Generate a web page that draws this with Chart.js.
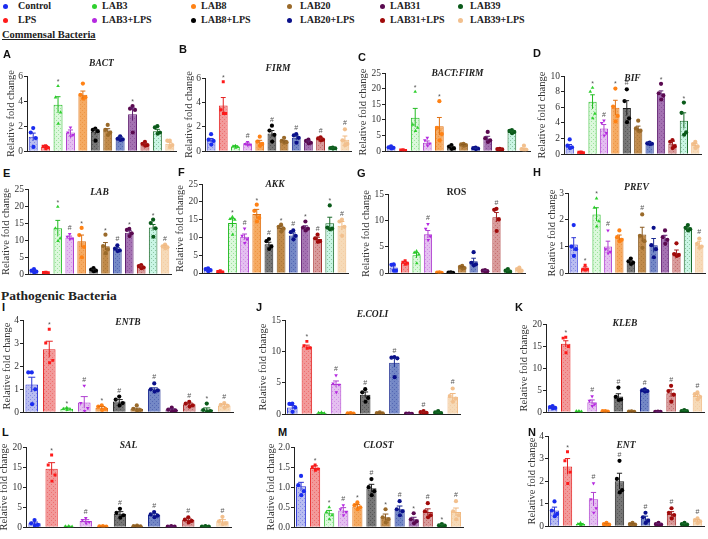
<!DOCTYPE html>
<html><head><meta charset="utf-8">
<script src="https://cdn.jsdelivr.net/npm/chart.js@4.4.1/dist/chart.umd.min.js"></script>
<style>
html,body{margin:0;padding:0;background:#fff;}
body{width:708px;height:539px;position:relative;overflow:hidden;font-family:"Liberation Serif",serif;}
.lg{position:absolute;font-weight:bold;font-size:10px;color:#222;white-space:nowrap;line-height:12px;}
.dot{position:absolute;width:5px;height:5px;border-radius:50%;}
.sec{position:absolute;font-weight:bold;color:#222;text-decoration:underline;white-space:nowrap;}
.pl{position:absolute;font-family:"Liberation Sans",Arial,sans-serif;font-weight:bold;font-size:11px;line-height:11px;color:#111;}
canvas{position:absolute;}
</style></head><body>
<script>
// ---------- DATA ----------
const groups = ['Control','LPS','LAB3','LAB3+LPS','LAB8','LAB8+LPS','LAB20','LAB20+LPS','LAB31','LAB31+LPS','LAB39','LAB39+LPS'];
const legendRow1 = ['Control','LAB3','LAB8','LAB20','LAB31','LAB39'];
const legendRow2 = ['LPS','LAB3+LPS','LAB8+LPS','LAB20+LPS','LAB31+LPS','LAB39+LPS'];

// A BACT
const bactMean = [1.15,0.35,3.7,1.5,4.5,1.55,1.65,1.05,2.95,0.55,1.6,0.6];
const bactSem  = [0.3,0.1,0.65,0.2,0.3,0.2,0.15,0.1,0.5,0.1,0.15,0.12];
const bactPts  = [[1.85,1.5,1.05,0.35],[0.45,0.4,0.3,0.2],[5.2,4.3,3.1,2.2],[1.9,1.5,1.3,1.2],[5.4,4.5,4.3,4.2],[1.8,1.7,1.6,0.85],[2.1,1.7,1.5,1.3],[1.2,1.0,0.95,0.9],[3.6,3.4,3.3,1.5],[0.75,0.6,0.5,0.45],[2.0,1.9,1.5,1.4],[0.85,0.85,0.5,0.35]];
const bactSig  = ['','','*','','','','','','*','','',''];
// B FIRM
const firmMean = [0.9,3.75,0.4,0.6,0.75,1.45,0.8,1.1,0.75,1.0,0.25,0.95];
const firmSem  = [0.15,0.65,0.05,0.08,0.15,0.25,0.1,0.15,0.1,0.08,0.03,0.3];
const firmPts  = [[1.4,0.95,0.85,0.55],[5.7,3.4,3.1,3.1],[0.45,0.4,0.35,0.3],[0.75,0.6,0.55,0.5],[1.2,0.8,0.6,0.45],[2.1,1.7,1.35,0.8],[1.1,0.85,0.75,0.7],[1.4,1.3,1.1,0.7],[0.95,0.85,0.7,0.65],[1.15,1.05,0.95,0.9],[0.3,0.27,0.25,0.22],[1.8,0.9,0.6,0.5]];
const firmSig  = ['','*','','#','','#','','#','','#','','#'];
// C BACT:FIRM
const ratioMean = [1.2,0.35,10.7,2.7,8.0,1.3,2.0,0.9,4.0,0.6,6.2,0.7];
const ratioSem  = [0.2,0.1,3.0,0.6,2.8,0.3,0.2,0.15,0.8,0.1,0.3,0.3];
const ratioPts  = [[1.6,1.3,1.1,0.9],[0.5,0.4,0.3,0.2],[19,8.5,7.5,6.5],[4.3,3.5,2.5,1.8],[16,7.5,5.5,3.5],[2.0,1.5,1.0,0.8],[2.4,2.2,2.0,1.8],[1.2,1.0,0.9,0.7],[6.2,4.2,3.5,3.0],[0.8,0.7,0.6,0.5],[6.8,6.5,6.2,5.8],[1.8,0.7,0.5,0.3]];
const ratioSig  = ['','','*','','*','','','','','','',''];
// D BIF
const bifMean = [1.0,0.25,6.7,3.3,5.95,5.9,3.3,1.4,7.8,1.35,4.3,1.2];
const bifSem  = [0.25,0.05,0.9,0.5,0.95,0.95,0.3,0.1,0.3,0.3,1.0,0.2];
const bifPts  = [[1.9,1.1,0.9,0.8],[0.3,0.25,0.2,0.2],[8.5,8.0,5.2,4.6],[4.3,4.0,2.7,2.4],[8.4,6.1,4.9,4.2],[8.3,6.8,4.6,4.1],[4.3,3.3,3.0,3.0],[1.5,1.4,1.35,1.3],[9.0,7.8,7.5,7.0],[1.8,1.6,1.0,0.8],[6.6,5.3,2.8,2.5],[1.6,1.3,1.0,0.8]];
const bifSig  = ['','','*','#','*','#','','','*','','*',''];
// E LAB
const labMean = [0.9,0.5,13.5,10.8,9.7,1.3,8.2,7.3,12.2,2.2,13.7,8.1];
const labSem  = [0.2,0.05,2.3,0.4,1.8,0.2,1.1,0.5,0.6,0.3,0.9,0.4];
const labPts  = [[1.5,1.1,0.8,0.5],[0.6,0.5,0.45,0.4],[19.8,13.5,10.5,9.8],[11.8,11.0,10.5,10.3],[13.6,11.5,8.0,5.0],[1.8,1.4,1.1,0.9],[11.6,8.3,7.3,6.2],[8.5,7.5,7.0,6.8],[13.3,13.0,12.0,11.2],[2.7,2.4,2.0,1.8],[16.0,15.0,13.5,11.0],[8.7,8.2,7.9,7.6]];
const labSig  = ['','','*','#','*','','*','#','*','','*','#'];
// F AKK
const akkMean = [1.0,0.5,14.1,10.2,16.6,8.1,12.7,10.6,12.8,9.6,14.0,13.3];
const akkSem  = [0.2,0.1,1.2,0.8,1.3,0.6,0.5,0.7,0.5,0.5,1.7,1.2];
const akkPts  = [[1.4,1.2,0.9,0.6],[0.7,0.5,0.4,0.3],[15.8,15.2,15.0,10.8],[12.5,10.5,9.5,8.5],[19.2,17.5,15.5,14.5],[9.6,9.0,7.5,6.8],[13.6,13.0,12.5,11.7],[12.0,11.5,10.5,9.5],[14.5,12.8,12.5,12.0],[10.8,9.8,9.0,8.8],[19.0,12.8,12.5,12.3],[15.0,14.5,13.0,10.5]];
const akkSig  = ['','','*','#','*','#','*','#','*','#','*','#'];
// G ROS
const rosMean = [1.1,2.0,3.4,7.4,0.15,0.15,1.1,2.3,0.45,10.6,0.45,0.65];
const rosSem  = [0.3,0.15,0.5,0.7,0.03,0.03,0.15,0.55,0.1,0.9,0.15,0.15];
const rosPts  = [[1.7,1.6,0.5,0.5],[2.4,2.1,1.9,1.7],[4.2,3.9,3.6,1.9],[9.3,8.4,7.0,6.3],[0.2,0.15,0.1,0.1],[0.2,0.15,0.1,0.1],[1.4,1.2,1.0,0.9],[4.0,2.0,1.7,1.5],[0.6,0.5,0.4,0.3],[12.2,12.0,10.2,8.0],[0.8,0.5,0.3,0.2],[1.1,0.8,0.5,0.3]];
const rosSig  = ['','','','#','','','','','','#','',''];
// H PREV
const prevMean = [1.08,0.18,2.2,1.0,1.33,0.42,1.45,1.05,1.3,0.77,1.65,1.07];
const prevSem  = [0.25,0.06,0.25,0.2,0.1,0.05,0.27,0.25,0.12,0.1,0.05,0.13];
const prevPts  = [[1.8,1.0,0.9,0.65],[0.3,0.15,0.15,0.12],[2.8,2.45,1.95,1.75],[1.6,0.9,0.8,0.75],[1.6,1.35,1.25,1.2],[0.55,0.45,0.4,0.35],[2.2,1.4,1.2,0.95],[1.7,1.05,0.9,0.6],[1.6,1.35,1.25,1.1],[1.12,0.72,0.68,0.65],[1.8,1.7,1.65,1.6],[1.3,1.1,1.0,0.95]];
const prevSig  = ['','*','*','#','','','#','','','','','#'];
// I ENTB
const entbMean = [1.2,2.73,0.15,0.43,0.2,0.47,0.15,1.0,0.12,0.35,0.12,0.3];
const entbSem  = [0.32,0.35,0.03,0.25,0.05,0.08,0.03,0.06,0.03,0.05,0.07,0.05];
const entbPts  = [[1.73,1.73,1.0,0.35],[3.6,3.0,2.25,2.15],[0.2,0.15,0.12,0.1],[1.15,0.4,0.18,0.05],[0.3,0.25,0.15,0.1],[0.68,0.55,0.4,0.3],[0.3,0.15,0.1,0.08],[1.25,1.0,0.95,0.9],[0.2,0.12,0.08,0.05],[0.45,0.38,0.3,0.25],[0.38,0.1,0.05,0.03],[0.4,0.32,0.28,0.2]];
const entbSig  = ['','*','*','#','*','#','','#','','#','*','#'];
// J E.COLI
const ecoliMean = [1.1,10.8,0.2,4.8,0.15,3.1,0.2,8.2,0.1,0.3,0.25,2.8];
const ecoliSem  = [0.3,0.2,0.05,0.5,0.03,0.45,0.05,0.7,0.02,0.07,0.1,0.5];
const ecoliPts  = [[1.7,1.65,1.1,0.4],[11.6,10.9,10.6,10.5],[0.3,0.25,0.15,0.1],[6.2,4.9,4.7,3.5],[0.2,0.15,0.12,0.1],[4.0,3.5,2.6,2.0],[0.3,0.2,0.15,0.1],[9.1,9.0,8.9,5.9],[0.12,0.1,0.08,0.06],[0.5,0.35,0.25,0.15],[0.5,0.3,0.2,0.1],[4.1,2.9,2.5,2.0]];
const ecoliSig  = ['','*','','#','','#','','#','','#','','#'];
// K KLEB
const klebMean = [1.1,15.5,0.2,2.3,0.2,3.6,0.15,4.9,0.1,4.3,0.3,3.7];
const klebSem  = [0.15,0.7,0.05,0.5,0.05,0.6,0.04,0.15,0.03,0.8,0.1,0.4];
const klebPts  = [[1.4,1.2,1.0,0.9],[17.0,16.8,14.9,13.5],[0.3,0.25,0.15,0.1],[3.6,2.6,1.8,1.4],[0.3,0.25,0.15,0.1],[5.6,3.5,2.9,2.8],[0.2,0.15,0.12,0.1],[5.2,5.0,4.8,4.7],[0.15,0.1,0.08,0.06],[6.0,4.8,4.0,2.4],[0.5,0.3,0.25,0.15],[4.5,4.1,3.5,2.9]];
const klebSig  = ['','*','','#','','#','','#','','#','','#'];
// L SAL
const salMean = [1.0,14.6,0.2,1.6,0.2,3.4,0.3,3.1,0.2,1.8,0.2,1.5];
const salSem  = [0.3,1.5,0.05,0.3,0.05,0.5,0.08,0.3,0.05,0.3,0.05,0.4];
const salPts  = [[1.8,1.0,0.6,0.4],[18.0,15.5,13.0,11.5],[0.3,0.25,0.15,0.1],[2.3,1.8,1.3,1.0],[0.3,0.25,0.15,0.1],[4.6,3.6,3.0,2.4],[0.45,0.3,0.25,0.2],[3.8,3.2,2.9,2.5],[0.3,0.2,0.15,0.1],[2.5,1.9,1.6,1.2],[0.3,0.2,0.15,0.1],[2.6,1.5,1.0,0.8]];
const salSig  = ['','*','','#','','#','','#','','#','','#'];
// M CLOST
const clostMean = [1.02,1.48,0.35,0.42,0.52,0.97,0.25,0.45,0.2,0.38,0.05,0.38];
const clostSem  = [0.1,0.05,0.07,0.07,0.05,0.1,0.08,0.08,0.05,0.08,0.02,0.1];
const clostPts  = [[1.28,1.05,0.9,0.8],[1.55,1.5,1.45,1.42],[0.5,0.38,0.3,0.2],[0.55,0.45,0.38,0.3],[0.62,0.55,0.5,0.45],[1.2,1.0,0.9,0.8],[0.45,0.25,0.2,0.12],[0.65,0.45,0.4,0.3],[0.35,0.2,0.15,0.1],[0.6,0.4,0.3,0.25],[0.08,0.05,0.04,0.03],[0.65,0.4,0.3,0.2]];
const clostSig  = ['','*','*','#','*','#','*','#','*','#','*','#'];
// N ENT
const entMean = [0.7,2.65,0.1,1.2,0.1,2.0,0.1,0.35,0.1,0.55,0.1,0.25];
const entSem  = [0.15,0.35,0.02,0.3,0.02,0.35,0.02,0.1,0.02,0.1,0.02,0.05];
const entPts  = [[1.1,0.7,0.55,0.45],[3.3,2.9,2.4,1.9],[0.15,0.1,0.08,0.06],[1.9,1.2,0.8,0.6],[0.15,0.1,0.08,0.06],[2.9,2.1,1.6,1.5],[0.15,0.1,0.08,0.06],[0.6,0.4,0.25,0.15],[0.15,0.1,0.08,0.06],[0.8,0.6,0.5,0.35],[0.15,0.1,0.08,0.06],[0.35,0.28,0.22,0.15]];
const entSig  = ['','*','','#','','#','','#','','#','','#'];

// ---------- STYLE ----------
const pointColors  = ['#1a2cf0','#ff1a1a','#2fd02f','#b52ae0','#ff8215','#000000','#9a6a2a','#0a108a','#5a0a50','#a00a0a','#0a5a1a','#f2c08e'];
const fillColors   = ['#b9bdf0','#f29a9a','#dcf8dc','#e4bff0','#f5aa62','#767676','#c08a4a','#7488c6','#a472b2','#d89a9a','#c9f5e4','#f6dab8'];
const borderColors = ['#2a33d6','#e52020','#22bb22','#b040d0','#e07010','#202020','#8a5a20','#1a2a90','#602070','#a02020','#1a6a2a','#f0b880'];
const pointStyles  = ['circle','rect','triangle','triangle','circle','circle','circle','circle','circle','circle','circle','circle'];
const pointRots    = [0,0,0,180,0,0,0,0,0,0,0,0];
const jitter = [0,-0.2,0.2,0.02];

const panels = [
 {id:'A',title:'BACT',max:6,step:1,mean:bactMean,sem:bactSem,pts:bactPts,sig:bactSig},
 {id:'B',title:'FIRM',max:6,step:1,mean:firmMean,sem:firmSem,pts:firmPts,sig:firmSig},
 {id:'C',title:'BACT:FIRM',max:25,step:5,mean:ratioMean,sem:ratioSem,pts:ratioPts,sig:ratioSig},
 {id:'D',title:'BIF',max:10,step:2,mean:bifMean,sem:bifSem,pts:bifPts,sig:bifSig},
 {id:'E',title:'LAB',max:25,step:5,mean:labMean,sem:labSem,pts:labPts,sig:labSig},
 {id:'F',title:'AKK',max:25,step:5,mean:akkMean,sem:akkSem,pts:akkPts,sig:akkSig},
 {id:'G',title:'ROS',max:15,step:5,mean:rosMean,sem:rosSem,pts:rosPts,sig:rosSig,upright:true},
 {id:'H',title:'PREV',max:3,step:1,mean:prevMean,sem:prevSem,pts:prevPts,sig:prevSig},
 {id:'I',title:'ENTB',max:4,step:1,mean:entbMean,sem:entbSem,pts:entbPts,sig:entbSig},
 {id:'J',title:'E.COLI',max:15,step:5,mean:ecoliMean,sem:ecoliSem,pts:ecoliPts,sig:ecoliSig},
 {id:'K',title:'KLEB',max:20,step:5,mean:klebMean,sem:klebSem,pts:klebPts,sig:klebSig},
 {id:'L',title:'SAL',max:20,step:5,mean:salMean,sem:salSem,pts:salPts,sig:salSig},
 {id:'M',title:'CLOST',max:2,step:0.5,mean:clostMean,sem:clostSem,pts:clostPts,sig:clostSig,dec:1},
 {id:'N',title:'ENT',max:4,step:1,mean:entMean,sem:entSem,pts:entPts,sig:entSig}
];
// layout: [axisLeft, plotRight, plotTop, plotBottom, titleY, letterX, letterY, yAxisWidth]
const layout = {
 A:[27,178,76,155,64,3,55,23],  B:[205,353,78,155,69,179,50,23],  C:[385,532,73,155,74,358,58,29],  D:[564,703,76,158,79,533,54,29],
 E:[28,173,189,278,193,3,174,29], F:[202,350,184,277,185,178,173,29], G:[388,527,194,277,193,357,174,29], H:[568,707,193,277,188,533,173,23],
 I:[23,235,320,416,323,2,308,23], J:[285,462,320,418,315,256,308,29], K:[546,706,324,416,324,515,308,29],
 L:[26,233,447,531,446,2,433,29], M:[294,465,447,531,446,278,433,30], N:[548,706,436,530,446,528,433,23]
};

// ---------- HTML TEXT ----------
function addDiv(cls, txt, x, y, extra){
  const d=document.createElement('div'); d.className=cls; d.textContent=txt;
  d.style.left=x+'px'; d.style.top=y+'px'; if(extra) Object.assign(d.style,extra);
  document.body.appendChild(d); return d;
}
const legX = [[5,18],[94,102],[193,201],[289,300],[382,390],[460,470]];
function addLegendRow(names, y){
  names.forEach((n,i)=>{
    const gi = groups.indexOf(n);
    const dt=document.createElement('div'); dt.className='dot'; dt.style.background=pointColors[gi];
    dt.style.left=(legX[i][0]-2.5)+'px'; dt.style.top=(y-2.5)+'px'; document.body.appendChild(dt);
    addDiv('lg', n, legX[i][1], y-6.5);
  });
}
addLegendRow(legendRow1, 6);
addLegendRow(legendRow2, 20);
addDiv('sec','Commensal Bacteria',2,29,{fontSize:'10.5px'});
addDiv('sec','Pathogenic Bacteria',1,288,{fontSize:'13.5px',textDecoration:'none'});

// ---------- CHARTS ----------
function makePattern(fill, dot){
  const o=document.createElement('canvas'); o.width=4; o.height=4;
  const g=o.getContext('2d'); g.fillStyle=fill; g.fillRect(0,0,4,4);
  g.globalAlpha=0.35; g.fillStyle=dot; g.fillRect(0,0,1,1); g.fillRect(2,2,1,1);
  return g.createPattern(o,'repeat');
}
const patterns = fillColors.map((f,i)=>makePattern(f,borderColors[i]));
const panelInfo = new Map();

const errPlugin = {
  id:'err',
  afterDatasetsDraw(chart){
    const info = panelInfo.get(chart.canvas); if(!info) return;
    const p = info.p, ctx=chart.ctx, ys=chart.scales.y, meta=chart.getDatasetMeta(1);
    ctx.save();
    meta.data.forEach((bar,i)=>{
      const m=p.mean[i], s=p.sem[i];
      const yt=ys.getPixelForValue(m+s), yb=ys.getPixelForValue(Math.max(0,m-s));
      const cw=bar.width*0.28;
      ctx.strokeStyle=borderColors[i]; ctx.lineWidth=1;
      ctx.beginPath(); ctx.moveTo(bar.x,yb); ctx.lineTo(bar.x,yt);
      ctx.moveTo(bar.x-cw,yt); ctx.lineTo(bar.x+cw,yt); ctx.stroke();
      if(p.sig[i]){
        const top=Math.min(yt, ys.getPixelForValue(Math.max(...p.pts[i])))-2.5;
        ctx.fillStyle='#555'; ctx.font='7px "Liberation Sans", sans-serif';
        ctx.textAlign='center'; ctx.textBaseline='bottom';
        ctx.fillText(p.sig[i], bar.x, top + (p.sig[i]==='*'?2:0));
      }
    });
    ctx.restore();
  },
  afterDraw(chart){
    const info = panelInfo.get(chart.canvas); if(!info) return;
    const p=info.p, ctx=chart.ctx, a=chart.chartArea;
    ctx.save();
    ctx.fillStyle='#222';
    ctx.font=(p.upright?'bold ':'italic bold ')+'9.5px "Liberation Serif", serif';
    ctx.textAlign='center'; ctx.textBaseline='middle';
    ctx.fillText(p.title,(a.left+a.right)/2, info.titleY);
    ctx.restore();
  }
};

panels.forEach(p=>{
  const L=layout[p.id];
  const [ax,xr,yt,yb,ty,lx,ly,YW]=L;
  const PR=2, PB=3;
  const PT=Math.max(7, yt-ty+8);
  const w=xr-ax+YW+PR, h=yb-yt+PT+PB;
  const c=document.createElement('canvas');
  c.width=w; c.height=h; c.style.width=w+'px'; c.style.height=h+'px';
  c.style.left=(ax-YW)+'px'; c.style.top=(yt-PT)+'px';
  document.body.appendChild(c);
  panelInfo.set(c,{p:p,titleY:ty-(yt-PT)});
  addDiv('pl', p.id, lx, ly-6);
  const pts=[], pc=[], ps=[], pr=[];
  p.pts.forEach((arr,i)=>arr.forEach((v,j)=>{pts.push({x:i+jitter[j%jitter.length],y:v}); pc.push(pointColors[i]); ps.push(pointStyles[i]); pr.push(pointRots[i]);}));
  const bars = p.mean.map((v,i)=>({x:i,y:v}));
  new Chart(c,{
    type:'bar',
    data:{datasets:[
      {type:'scatter',data:pts,pointBackgroundColor:pc,pointBorderColor:pc,pointBorderWidth:0,pointRadius:2.1,pointStyle:ps,pointRotation:pr,order:0},
      {type:'bar',data:bars,backgroundColor:patterns,borderColor:borderColors,borderWidth:1,barPercentage:0.72,categoryPercentage:1,order:1}
    ]},
    options:{
      responsive:false, animation:false, devicePixelRatio:1,
      layout:{padding:{left:0,right:PR,top:PT,bottom:PB}},
      plugins:{legend:{display:false},tooltip:{enabled:false},title:{display:false}},
      scales:{
        x:{type:'linear',min:-0.5,max:11.5,offset:false,grid:{display:false},ticks:{display:false},border:{display:true,color:'#222',width:1},afterFit(s){s.height=0;}},
        y:{min:0,max:p.max,
           ticks:{stepSize:p.step,color:'#333',padding:1,font:{family:'"Liberation Serif", serif',size:9.5},callback:v=>p.dec?v.toFixed(p.dec):v},
           grid:{drawOnChartArea:false,drawTicks:true,tickLength:3,color:'#222'},
           border:{display:true,color:'#222',width:1},
           title:{display:true,text:'Relative fold change',color:'#333',font:{family:'"Liberation Serif", serif',size:10.5},padding:{top:1,bottom:0}},
           afterFit(s){s.width=YW;}}
      }
    },
    plugins:[errPlugin]
  });
});
</script></body></html>
